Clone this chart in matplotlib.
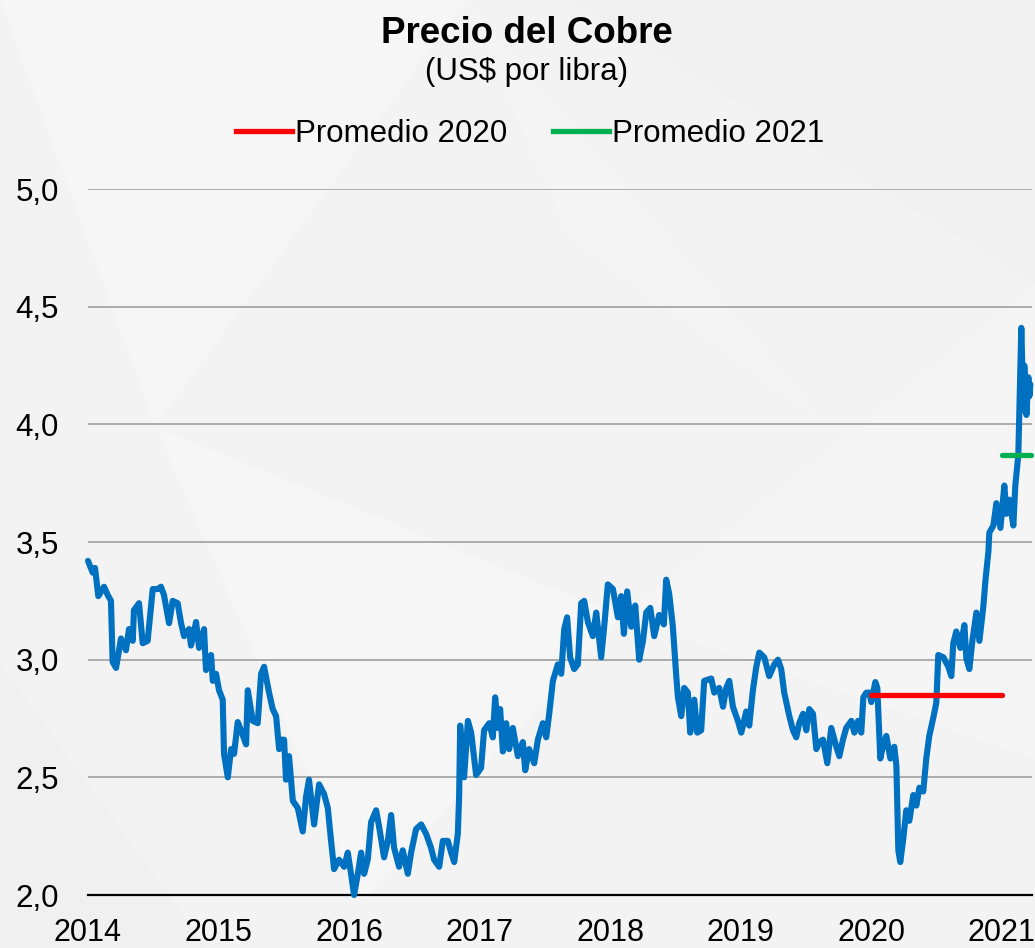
import matplotlib.pyplot as plt
from matplotlib.lines import Line2D
from matplotlib.patches import Polygon

plt.rcParams['font.family'] = ['Liberation Sans', 'DejaVu Sans']

# precio del cobre, fecha en años decimales
fecha = [
    2014.000, 2014.036, 2014.054, 2014.079, 2014.123, 2014.151, 2014.176, 2014.189,
    2014.215, 2014.253, 2014.291, 2014.314, 2014.343, 2014.352, 2014.391, 2014.419,
    2014.457, 2014.496, 2014.534, 2014.559, 2014.582, 2014.621, 2014.649, 2014.687,
    2014.713, 2014.736, 2014.774, 2014.789, 2014.828, 2014.851, 2014.889, 2014.904,
    2014.943, 2014.956, 2014.981, 2015.004, 2015.032, 2015.042, 2015.071, 2015.096,
    2015.119, 2015.147, 2015.172, 2015.211, 2015.224, 2015.262, 2015.300, 2015.326,
    2015.349, 2015.387, 2015.415, 2015.441, 2015.464, 2015.479, 2015.502, 2015.517,
    2015.540, 2015.569, 2015.607, 2015.645, 2015.671, 2015.693, 2015.722, 2015.732,
    2015.770, 2015.808, 2015.837, 2015.862, 2015.885, 2015.923, 2015.962, 2015.990,
    2016.015, 2016.038, 2016.067, 2016.092, 2016.115, 2016.143, 2016.169, 2016.207,
    2016.230, 2016.268, 2016.297, 2016.322, 2016.345, 2016.383, 2016.411, 2016.450,
    2016.475, 2016.513, 2016.552, 2016.590, 2016.628, 2016.651, 2016.690, 2016.718,
    2016.756, 2016.782, 2016.805, 2016.833, 2016.843, 2016.851, 2016.881, 2016.910,
    2016.935, 2016.973, 2017.011, 2017.034, 2017.073, 2017.101, 2017.119, 2017.139,
    2017.157, 2017.178, 2017.203, 2017.226, 2017.254, 2017.293, 2017.331, 2017.349,
    2017.379, 2017.418, 2017.446, 2017.484, 2017.510, 2017.533, 2017.561, 2017.599,
    2017.625, 2017.648, 2017.670, 2017.693, 2017.724, 2017.752, 2017.778, 2017.801,
    2017.829, 2017.867, 2017.893, 2017.931, 2017.954, 2017.982, 2018.021, 2018.059,
    2018.084, 2018.105, 2018.130, 2018.161, 2018.192, 2018.222, 2018.251, 2018.276,
    2018.307, 2018.337, 2018.375, 2018.411, 2018.429, 2018.452, 2018.480, 2018.506,
    2018.519, 2018.544, 2018.567, 2018.595, 2018.613, 2018.644, 2018.667, 2018.697,
    2018.720, 2018.774, 2018.797, 2018.835, 2018.864, 2018.889, 2018.912, 2018.940,
    2018.978, 2019.004, 2019.042, 2019.065, 2019.093, 2019.119, 2019.142, 2019.180,
    2019.218, 2019.257, 2019.285, 2019.310, 2019.333, 2019.372, 2019.400, 2019.425,
    2019.448, 2019.477, 2019.502, 2019.525, 2019.553, 2019.579, 2019.602, 2019.630,
    2019.663, 2019.693, 2019.732, 2019.755, 2019.783, 2019.808, 2019.847, 2019.870,
    2019.898, 2019.923, 2019.939, 2019.962, 2019.985, 2020.000, 2020.031, 2020.046,
    2020.069, 2020.092, 2020.115, 2020.146, 2020.176, 2020.192, 2020.207, 2020.222,
    2020.245, 2020.268, 2020.291, 2020.322, 2020.345, 2020.368, 2020.398, 2020.421,
    2020.444, 2020.475, 2020.498, 2020.513, 2020.552, 2020.590, 2020.613, 2020.628,
    2020.651, 2020.682, 2020.713, 2020.728, 2020.751, 2020.774, 2020.805, 2020.828,
    2020.858, 2020.874, 2020.897, 2020.904, 2020.935, 2020.958, 2020.989, 2021.019,
    2021.034, 2021.057, 2021.088, 2021.103, 2021.126, 2021.134, 2021.149, 2021.165,
    2021.172, 2021.188, 2021.203, 2021.211, 2021.218,
]
precio = [
    3.42, 3.37, 3.39, 3.27, 3.31, 3.275, 3.25, 2.99,
    2.965, 3.09, 3.04, 3.13, 3.08, 3.21, 3.24, 3.07,
    3.08, 3.30, 3.30, 3.31, 3.275, 3.155, 3.25, 3.24,
    3.155, 3.10, 3.13, 3.06, 3.16, 3.05, 3.13, 2.956,
    3.02, 2.91, 2.94, 2.87, 2.83, 2.60, 2.50, 2.62,
    2.60, 2.735, 2.70, 2.64, 2.87, 2.74, 2.73, 2.94,
    2.97, 2.86, 2.79, 2.76, 2.62, 2.66, 2.66, 2.49,
    2.59, 2.40, 2.37, 2.27, 2.42, 2.49, 2.35, 2.30,
    2.47, 2.43, 2.37, 2.23, 2.11, 2.15, 2.12, 2.18,
    2.09, 2.00, 2.09, 2.18, 2.09, 2.15, 2.31, 2.36,
    2.29, 2.16, 2.23, 2.34, 2.20, 2.12, 2.19, 2.09,
    2.18, 2.28, 2.30, 2.26, 2.20, 2.15, 2.12, 2.23,
    2.23, 2.18, 2.14, 2.26, 2.42, 2.72, 2.50, 2.74,
    2.69, 2.51, 2.54, 2.70, 2.73, 2.67, 2.84, 2.71,
    2.79, 2.61, 2.73, 2.62, 2.71, 2.59, 2.65, 2.53,
    2.62, 2.56, 2.66, 2.73, 2.67, 2.77, 2.91, 2.98,
    2.94, 3.13, 3.18, 3.01, 2.96, 2.98, 3.24, 3.25,
    3.16, 3.10, 3.20, 3.01, 3.14, 3.32, 3.30, 3.18,
    3.27, 3.11, 3.29, 3.14, 3.23, 3.00, 3.08, 3.20,
    3.22, 3.10, 3.19, 3.15, 3.34, 3.28, 3.14, 2.93,
    2.84, 2.76, 2.88, 2.86, 2.69, 2.83, 2.69, 2.70,
    2.91, 2.92, 2.86, 2.88, 2.80, 2.88, 2.91, 2.80,
    2.74, 2.69, 2.78, 2.72, 2.87, 2.97, 3.03, 3.01,
    2.93, 2.98, 3.00, 2.96, 2.86, 2.76, 2.70, 2.67,
    2.73, 2.77, 2.70, 2.79, 2.77, 2.62, 2.65, 2.66,
    2.56, 2.71, 2.63, 2.59, 2.66, 2.71, 2.74, 2.69,
    2.74, 2.69, 2.84, 2.86, 2.86, 2.82, 2.905, 2.88,
    2.58, 2.64, 2.676, 2.58, 2.63, 2.55, 2.19, 2.14,
    2.24, 2.36, 2.315, 2.425, 2.38, 2.456, 2.44, 2.58,
    2.676, 2.754, 2.817, 3.02, 3.01, 2.97, 2.93, 3.07,
    3.12, 3.05, 3.147, 3.005, 2.96, 3.08, 3.20, 3.08,
    3.225, 3.335, 3.46, 3.54, 3.57, 3.665, 3.56, 3.74,
    3.62, 3.68, 3.57, 3.74, 3.87, 4.06, 4.41, 4.06,
    4.25, 4.04, 4.20, 4.12, 4.17,
]

# promedios anuales
prom_2020 = 2.85
prom_2021 = 3.87
periodo_2020 = [2020.0, 2021.0]
periodo_2021 = [2021.0, 2021.225]

anios = [2014, 2015, 2016, 2017, 2018, 2019, 2020, 2021]
y_ticks = [2.0, 2.5, 3.0, 3.5, 4.0, 4.5, 5.0]
y_labels = ['2,0', '2,5', '3,0', '3,5', '4,0', '4,5', '5,0']

azul = '#0070C0'
rojo = '#FF0000'
verde = '#00B050'

fig = plt.figure(figsize=(10.35, 9.48), dpi=100)
fig.patch.set_facecolor('#f3f3f3')

# fondo con triangulos muy suaves
tri = [
    ([(0.0, 1.0), (0.45, 1.0), (0.15, 0.55)], '#f6f6f6'),
    ([(0.55, 1.0), (1.0, 1.0), (1.0, 0.70)], '#f1f1f1'),
    ([(0.15, 0.55), (0.60, 0.35), (0.35, 0.05)], '#f6f6f6'),
    ([(0.60, 0.35), (1.0, 0.70), (1.0, 0.20)], '#f5f5f5'),
    ([(0.0, 0.30), (0.20, 0.0), (0.0, 0.0)], '#f0f0f0'),
    ([(0.45, 1.0), (0.80, 0.55), (0.55, 0.75)], '#f5f5f5'),
]
for pts, c in tri:
    fig.patches.append(Polygon(pts, closed=True, transform=fig.transFigure,
                               facecolor=c, edgecolor='none', zorder=-10))

ax = fig.add_axes([0.0850, 0.0559, 0.9125, 0.7447])
ax.set_facecolor('none')

ax.plot(fecha, precio, color=azul, lw=4.4, solid_joinstyle='round',
        solid_capstyle='round', zorder=3, clip_on=False)
ax.plot(periodo_2020, [prom_2020, prom_2020], color=rojo, lw=3.8,
        solid_capstyle='round', zorder=4)
ax.plot(periodo_2021, [prom_2021, prom_2021], color=verde, lw=3.8,
        solid_capstyle='round', zorder=4, clip_on=False)

ax.set_xlim(2014, 2021.234)
ax.set_ylim(2.0, 5.0)
ax.set_yticks(y_ticks)
ax.set_yticklabels(y_labels)
ax.set_xticks(anios)
ax.set_xticklabels([str(a) for a in anios])
ax.tick_params(axis='y', length=0, pad=21, labelsize=22.5)
ax.tick_params(axis='x', length=0, pad=16.5, labelsize=22)

ax.grid(axis='y', color='#a6a6a6', lw=1.3)
ax.set_axisbelow(True)
for s in ['top', 'right', 'left']:
    ax.spines[s].set_visible(False)
ax.spines['bottom'].set_color('black')
ax.spines['bottom'].set_linewidth(1.6)
ax.spines['bottom'].set_zorder(2)

fig.text(0.509, 1 - 43 / 948, 'Precio del Cobre', ha='center', va='baseline',
         fontsize=26.5, fontweight='bold')
fig.text(0.509, 1 - 80 / 948, '(US$ por libra)', ha='center', va='baseline',
         fontsize=22.5)

handles = [Line2D([], [], color=rojo, lw=3.8), Line2D([], [], color=verde, lw=3.8)]
fig.legend(handles, ['Promedio 2020', 'Promedio 2021'], loc='center',
           bbox_to_anchor=(0.512, 1 - 134 / 948), ncol=2, frameon=False,
           fontsize=22.5, handlelength=1.8, handletextpad=0.1,
           columnspacing=1.45, borderpad=0, borderaxespad=0)

fig.savefig('out.png', dpi=100, facecolor=fig.get_facecolor())
